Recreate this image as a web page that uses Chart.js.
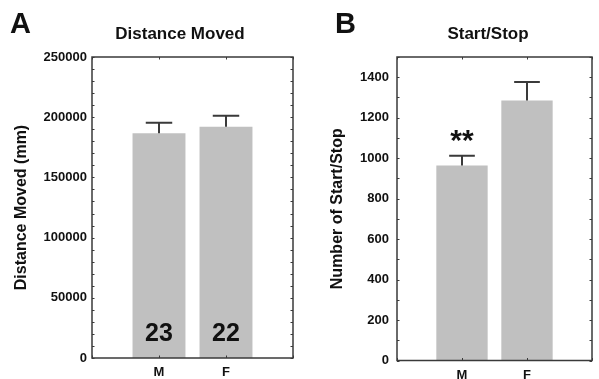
<!DOCTYPE html>
<html>
<head>
<meta charset="utf-8">
<script src="https://cdn.jsdelivr.net/npm/chart.js@4/dist/chart.umd.min.js"></script>
<style>
  html, body { margin: 0; padding: 0; background: #fff; }
  #wrap { position: relative; width: 599px; height: 379px; }
  .pane { position: absolute; top: 0; height: 379px; }
</style>
</head>
<body>
<div id="wrap">
  <div class="pane" style="left:0;width:300px"><canvas id="cA"></canvas></div>
  <div class="pane" style="left:300px;width:299px"><canvas id="cB"></canvas></div>
</div>
<script>
// ---- data ----
const categories = ['M', 'F'];
const distanceMoved = [186600, 192100];
const distanceErrTop = [195400, 201300];
const distanceN = ['23', '22'];
const startStop = [964, 1285];
const startStopErrTop = [1012, 1377];
const startStopMarks = ['**', ''];
const yTicksA = [0, 50000, 100000, 150000, 200000, 250000];
const yTicksB = [0, 200, 400, 600, 800, 1000, 1200, 1400];

const FONT = "'Liberation Sans', Arial, Helvetica, sans-serif";
const AXIS = '#3a3a3a';
const BAR = '#c0c0c0';

const framePlugin = {
  id: 'frame',
  afterDatasetsDraw(chart, args, o) {
    const {ctx, chartArea: a, scales: {x, y}} = chart;
    ctx.save();
    // error bars (upper only)
    const meta = chart.getDatasetMeta(0);
    ctx.strokeStyle = AXIS;
    ctx.lineWidth = 2;
    meta.data.forEach((bar, i) => {
      const e = o.err[i];
      if (e == null) return;
      const yt = y.getPixelForValue(e);
      const half = bar.width * 0.25;
      ctx.beginPath();
      ctx.moveTo(bar.x, bar.y);
      ctx.lineTo(bar.x, yt);
      ctx.moveTo(bar.x - half, yt);
      ctx.lineTo(bar.x + half, yt);
      ctx.stroke();
    });
    // frame
    ctx.lineWidth = 1.5;
    ctx.strokeStyle = AXIS;
    ctx.strokeRect(a.left, a.top, a.right - a.left, a.bottom - a.top);
    // inward ticks
    ctx.lineWidth = 1;
    const minor = o.minor;
    for (let v = y.min; v <= y.max + 1e-9; v += minor) {
      const py = Math.round(y.getPixelForValue(v)) + 0.5;
      ctx.beginPath();
      ctx.moveTo(a.left, py); ctx.lineTo(a.left + 2.5, py);
      ctx.moveTo(a.right, py); ctx.lineTo(a.right - 2.5, py);
      ctx.stroke();
    }
    meta.data.forEach((bar) => {
      const px = Math.round(bar.x) + 0.5;
      ctx.beginPath();
      ctx.moveTo(px, a.bottom); ctx.lineTo(px, a.bottom - 2.5);
      ctx.moveTo(px, a.top); ctx.lineTo(px, a.top + 2.5);
      ctx.stroke();
    });
    // texts inside/above bars
    ctx.fillStyle = '#111';
    ctx.textAlign = 'center';
    meta.data.forEach((bar, i) => {
      if (o.inBar && o.inBar[i]) {
        ctx.font = 'bold 25px ' + FONT;
        ctx.textBaseline = 'alphabetic';
        ctx.fillText(o.inBar[i], bar.x, a.bottom - 17);
      }
      if (o.above && o.above[i]) {
        ctx.font = 'bold 30px ' + FONT;
        ctx.textBaseline = 'middle';
        ctx.fillText(o.above[i], bar.x, y.getPixelForValue(o.err[i]) - 14);
      }
    });
    // panel letter & title
    ctx.textBaseline = 'middle';
    ctx.textAlign = 'left';
    ctx.font = 'bold 29px ' + FONT;
    ctx.fillText(o.letter, o.letterX, 25);
    ctx.textAlign = 'center';
    ctx.font = 'bold 17px ' + FONT;
    ctx.fillText(o.title, o.titleX, 34);
    ctx.restore();
  }
};

function makeChart(id, vals, err, ticks, cfg) {
  const labels = [''].concat(categories, ['']);
  const data = [null].concat(vals, [null]);
  const errs = [null].concat(err, [null]);
  const inBar = cfg.inBar ? [null].concat(cfg.inBar, [null]) : null;
  const above = cfg.above ? [null].concat(cfg.above, [null]) : null;
  return new Chart(document.getElementById(id), {
    type: 'bar',
    data: { labels, datasets: [{ data, backgroundColor: BAR, borderWidth: 0,
      categoryPercentage: 1, barPercentage: 0.79 }] },
    options: {
      responsive: true, maintainAspectRatio: false, animation: false,
      layout: { padding: { left: 0, right: cfg.padRight, top: 57, bottom: 0 } },
      plugins: { legend: { display: false }, tooltip: { enabled: false }, title: { display: false },
        frame: { err: errs, minor: cfg.minor, inBar, above, letter: cfg.letter, letterX: cfg.letterX,
          title: cfg.title, titleX: cfg.titleX } },
      scales: {
        x: {
          offset: false,
          grid: { display: false, drawTicks: false },
          border: { display: false },
          ticks: { color: '#111', font: { family: FONT, size: 13, weight: 'bold' }, padding: 7,
            maxRotation: 0, autoSkip: false },
          afterFit(s) { s.height = cfg.xHeight; }
        },
        y: {
          min: 0, max: cfg.max,
          grid: { display: false, drawTicks: false },
          border: { display: false },
          afterBuildTicks(s) { s.ticks = ticks.map(v => ({ value: v })); },
          ticks: { color: '#111', font: { family: FONT, size: 13, weight: 'bold' }, padding: cfg.tickPad,
            callback: (v) => String(v) },
          title: { display: true, text: cfg.yTitle, color: '#111',
            font: { family: FONT, size: 16, weight: 'bold' }, padding: { top: cfg.titlePad, bottom: 0 } },
          afterFit(s) { s.width = cfg.yWidth; }
        }
      }
    },
    plugins: [framePlugin]
  });
}

makeChart('cA', distanceMoved, distanceErrTop, yTicksA, {
  max: 250000, minor: 10000, padRight: 7, yWidth: 92, xHeight: 21, tickPad: 5, titlePad: 12,
  yTitle: 'Distance Moved (mm)', letter: 'A', letterX: 10, title: 'Distance Moved', titleX: 180,
  inBar: distanceN
});
makeChart('cB', startStop, startStopErrTop, yTicksB, {
  max: 1500, minor: 100, padRight: 1, yWidth: 97, xHeight: 18.5, tickPad: 8, titlePad: 28,
  yTitle: 'Number of Start/Stop', letter: 'B', letterX: 35, title: 'Start/Stop', titleX: 188,
  above: startStopMarks
});
</script>
</body>
</html>
